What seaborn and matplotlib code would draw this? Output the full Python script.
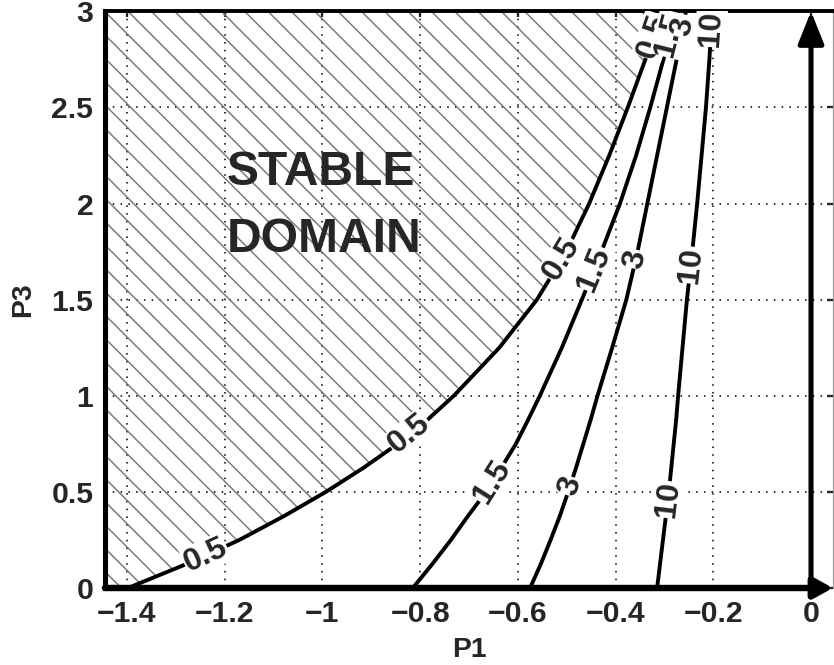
import numpy as np
import matplotlib
matplotlib.use("Agg")
import matplotlib.pyplot as plt
import seaborn as sns

p3 = [0, 0.125, 0.25, 0.375, 0.5, 0.625, 0.75, 0.875, 1.0, 1.25, 1.5, 1.75,
      2.0, 2.25, 2.5, 2.75, 3.0]

# P1 values of each iso-line
p1_05 = [-1.398, -1.278, -1.170, -1.078, -0.993, -0.916, -0.846, -0.785, -0.731,
         -0.638, -0.561, -0.501, -0.454, -0.413, -0.375, -0.339, -0.306]
p1_15 = [-0.815, -0.775, -0.737, -0.702, -0.665, -0.634, -0.604, -0.579, -0.555,
         -0.510, -0.469, -0.429, -0.391, -0.358, -0.329, -0.302, -0.277]
p1_3 = [-0.575, -0.553, -0.533, -0.514, -0.497, -0.481, -0.466, -0.451, -0.437,
        -0.407, -0.378, -0.355, -0.335, -0.315, -0.295, -0.275, -0.256]
p1_10 = [-0.315, -0.309, -0.303, -0.297, -0.291, -0.286, -0.281, -0.276, -0.272,
         -0.263, -0.254, -0.243, -0.233, -0.224, -0.215, -0.208, -0.202]

levels = ["0.5", "1.5", "3", "10"]
curves = [p1_05, p1_15, p1_3, p1_10]
# P3 positions of the inline labels on each line
label_p3 = [[0.17, 0.80, 1.71, 2.87],
            [0.55, 1.66, 2.88],
            [0.53, 1.71, 2.92],
            [0.46, 1.68, 2.91]]

x_ticks = [-1.4, -1.2, -1.0, -0.8, -0.6, -0.4, -0.2, 0.0]
x_tick_labels = ["\u22121.4", "\u22121.2", "\u22121", "\u22120.8", "\u22120.6",
                 "\u22120.4", "\u22120.2", "0"]
y_ticks = [0, 0.5, 1.0, 1.5, 2.0, 2.5, 3.0]
y_tick_labels = ["0", "0.5", "1", "1.5", "2", "2.5", "3"]

xmin, xmax = -1.445, 0.045

sns.set_style("white")
plt.rcParams["font.family"] = ["Liberation Sans", "DejaVu Sans"]
plt.rcParams["font.weight"] = "bold"
plt.rcParams["hatch.linewidth"] = 0.75
plt.rcParams["hatch.color"] = "#777777"

DPI = 140
fig = plt.figure(figsize=(834 / DPI, 665 / DPI), dpi=DPI)
ax = fig.add_axes([105 / 834, 77 / 665, 728 / 834, 576.7 / 665])
ax.set_xlim(xmin, xmax)
ax.set_ylim(0, 3)

# hatched stable domain
ax.fill_betweenx(p3, xmin, p1_05, facecolor="none", edgecolor="#777777",
                 hatch="\\\\", linewidth=0, zorder=1)

for p1 in curves:
    sns.lineplot(x=p1, y=p3, sort=False, estimator=None, color="black",
                 linewidth=2.0, ax=ax, zorder=3)

ax.set_xticks(x_ticks)
ax.set_xticklabels(x_tick_labels)
ax.set_yticks(y_ticks)
ax.set_yticklabels(y_tick_labels)
ax.tick_params(direction="in", length=3, width=1.2, top=True, right=True,
               labelsize=15.5, pad=6)
ax.grid(True, color="black", linestyle=(0, (1, 4)), linewidth=0.8)
ax.set_axisbelow(True)

ax.spines["left"].set_linewidth(2.6)
ax.spines["top"].set_linewidth(2.0)
ax.spines["bottom"].set_visible(False)
ax.spines["right"].set_linewidth(0.6)
ax.spines["right"].set_color("#999999")
for s in ["left", "top"]:
    ax.spines[s].set_color("black")

# axis arrows
ax.annotate("", xy=(xmax, 0), xytext=(xmin, 0),
            arrowprops=dict(arrowstyle="-|>,head_length=0.4,head_width=0.22",
                            lw=3.3, color="black", shrinkA=0, shrinkB=0,
                            mutation_scale=20),
            annotation_clip=False, zorder=6)
ax.annotate("", xy=(0, 3), xytext=(0, 0),
            arrowprops=dict(arrowstyle="-|>,head_length=0.7,head_width=0.28",
                            lw=2.6, color="black", shrinkA=0, shrinkB=0,
                            mutation_scale=20),
            annotation_clip=False, zorder=6)

# inline contour labels
for txt, p1, ys in zip(levels, curves, label_p3):
    for y0 in ys:
        x0 = np.interp(y0, p3, p1)
        pa = ax.transData.transform((np.interp(y0 - 0.04, p3, p1), y0 - 0.04))
        pb = ax.transData.transform((np.interp(y0 + 0.04, p3, p1), y0 + 0.04))
        ang = np.degrees(np.arctan2(pb[1] - pa[1], pb[0] - pa[0]))
        ax.text(x0, y0, txt, rotation=ang, rotation_mode="anchor",
                ha="center", va="center", fontsize=16.5, fontweight="bold",
                bbox=dict(facecolor="white", edgecolor="none", pad=0.3),
                clip_on=True, zorder=5)

ax.text(-1.195, 2.097, "STABLE", fontsize=24.7, fontweight="bold", ha="left",
        va="baseline", zorder=4)
ax.text(-1.195, 1.750, "DOMAIN", fontsize=24.7, fontweight="bold", ha="left",
        va="baseline", zorder=4)

ax.set_xlabel("P1", fontsize=14.5, fontweight="bold", labelpad=5)
ax.set_ylabel("P3", fontsize=14.5, fontweight="bold", labelpad=8)

fig.savefig("out.png", dpi=DPI)
